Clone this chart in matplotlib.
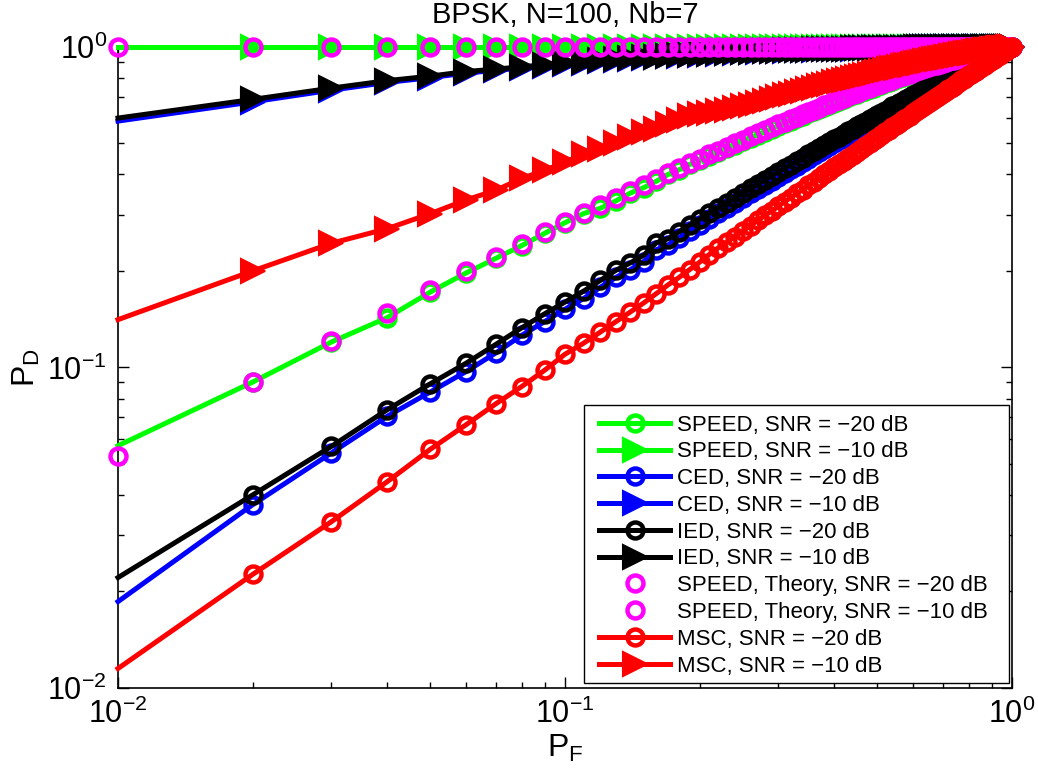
import numpy as np
import matplotlib
matplotlib.use("Agg")
import matplotlib.pyplot as plt
from matplotlib.patches import Rectangle

# fonts: Helvetica-like text, also inside math (tick labels, P_D, P_F)
plt.rcParams["font.family"] = ["Liberation Sans", "DejaVu Sans"]
plt.rcParams["mathtext.fontset"] = "custom"
plt.rcParams["mathtext.rm"] = "Liberation Sans"
plt.rcParams["mathtext.it"] = "Liberation Sans:italic"
plt.rcParams["mathtext.default"] = "regular"

# false alarm probabilities 0.01 ... 1.00
pf = np.arange(1, 101) / 100

# detection probabilities, 10 values per row
speed_sim_20 = [
    0.057, 0.090, 0.120, 0.143, 0.172, 0.197, 0.219, 0.240, 0.262, 0.283,
    0.302, 0.314, 0.331, 0.350, 0.364, 0.381, 0.400, 0.414, 0.430, 0.444,
    0.457, 0.470, 0.483, 0.496, 0.508, 0.520, 0.532, 0.544, 0.556, 0.567,
    0.578, 0.589, 0.600, 0.611, 0.621, 0.631, 0.641, 0.651, 0.660, 0.670,
    0.679, 0.688, 0.697, 0.706, 0.714, 0.723, 0.731, 0.739, 0.747, 0.755,
    0.763, 0.770, 0.778, 0.785, 0.792, 0.799, 0.806, 0.813, 0.820, 0.827,
    0.833, 0.840, 0.846, 0.852, 0.859, 0.865, 0.871, 0.876, 0.882, 0.887,
    0.893, 0.898, 0.903, 0.909, 0.914, 0.918, 0.923, 0.928, 0.933, 0.937,
    0.942, 0.946, 0.950, 0.954, 0.958, 0.961, 0.965, 0.969, 0.972, 0.975,
    0.978, 0.981, 0.984, 0.987, 0.990, 0.992, 0.994, 0.996, 0.998, 1.000,
]
speed_sim_10 = [
    1.0, 1.0, 1.0, 1.0, 1.0, 1.0, 1.0, 1.0, 1.0, 1.0,
    1.0, 1.0, 1.0, 1.0, 1.0, 1.0, 1.0, 1.0, 1.0, 1.0,
    1.0, 1.0, 1.0, 1.0, 1.0, 1.0, 1.0, 1.0, 1.0, 1.0,
    1.0, 1.0, 1.0, 1.0, 1.0, 1.0, 1.0, 1.0, 1.0, 1.0,
    1.0, 1.0, 1.0, 1.0, 1.0, 1.0, 1.0, 1.0, 1.0, 1.0,
    1.0, 1.0, 1.0, 1.0, 1.0, 1.0, 1.0, 1.0, 1.0, 1.0,
    1.0, 1.0, 1.0, 1.0, 1.0, 1.0, 1.0, 1.0, 1.0, 1.0,
    1.0, 1.0, 1.0, 1.0, 1.0, 1.0, 1.0, 1.0, 1.0, 1.0,
    1.0, 1.0, 1.0, 1.0, 1.0, 1.0, 1.0, 1.0, 1.0, 1.0,
    1.0, 1.0, 1.0, 1.0, 1.0, 1.0, 1.0, 1.0, 1.0, 1.0,
]
ced_20 = [
    0.0186, 0.0373, 0.0541, 0.0704, 0.0839, 0.097, 0.111, 0.126, 0.139, 0.152,
    0.164, 0.178, 0.191, 0.202, 0.214, 0.233, 0.241, 0.254, 0.267, 0.279,
    0.291, 0.303, 0.314, 0.327, 0.338, 0.349, 0.360, 0.372, 0.383, 0.394,
    0.405, 0.416, 0.426, 0.437, 0.448, 0.459, 0.469, 0.480, 0.490, 0.501,
    0.511, 0.521, 0.531, 0.541, 0.551, 0.561, 0.571, 0.581, 0.591, 0.601,
    0.611, 0.620, 0.629, 0.639, 0.648, 0.657, 0.667, 0.677, 0.686, 0.695,
    0.703, 0.712, 0.722, 0.731, 0.739, 0.748, 0.756, 0.766, 0.774, 0.782,
    0.790, 0.800, 0.808, 0.816, 0.824, 0.832, 0.840, 0.848, 0.856, 0.864,
    0.872, 0.879, 0.887, 0.894, 0.902, 0.910, 0.917, 0.924, 0.931, 0.938,
    0.945, 0.952, 0.958, 0.966, 0.972, 0.977, 0.984, 0.989, 0.996, 1.000,
]
ced_10 = [
    0.587, 0.674, 0.733, 0.775, 0.802, 0.829, 0.845, 0.860, 0.873, 0.885,
    0.894, 0.903, 0.911, 0.917, 0.923, 0.929, 0.934, 0.938, 0.942, 0.946,
    0.950, 0.953, 0.956, 0.959, 0.961, 0.963, 0.966, 0.968, 0.970, 0.972,
    0.973, 0.975, 0.976, 0.978, 0.979, 0.980, 0.982, 0.983, 0.984, 0.985,
    0.986, 0.987, 0.987, 0.988, 0.989, 0.989, 0.990, 0.990, 0.991, 0.992,
    0.992, 0.993, 0.993, 0.994, 0.994, 0.994, 0.995, 0.995, 0.995, 0.996,
    0.996, 0.996, 0.997, 0.997, 0.997, 0.997, 0.998, 0.998, 0.998, 0.998,
    0.998, 0.999, 0.999, 0.999, 0.999, 0.999, 0.999, 0.999, 0.999, 0.999,
    1.000, 1.000, 1.000, 1.000, 1.000, 1.000, 1.000, 1.000, 1.000, 1.000,
    1.000, 1.000, 1.000, 1.000, 1.000, 1.000, 1.000, 1.000, 1.000, 1.000,
]
ied_20 = [
    0.0221, 0.0400, 0.0567, 0.0738, 0.0890, 0.103, 0.118, 0.133, 0.147, 0.160,
    0.173, 0.187, 0.201, 0.212, 0.224, 0.245, 0.252, 0.265, 0.278, 0.290,
    0.303, 0.315, 0.326, 0.339, 0.350, 0.362, 0.373, 0.385, 0.396, 0.407,
    0.418, 0.429, 0.440, 0.451, 0.462, 0.473, 0.483, 0.494, 0.504, 0.515,
    0.525, 0.535, 0.545, 0.555, 0.565, 0.575, 0.585, 0.595, 0.604, 0.614,
    0.624, 0.633, 0.642, 0.652, 0.661, 0.670, 0.679, 0.689, 0.698, 0.707,
    0.715, 0.724, 0.733, 0.742, 0.750, 0.759, 0.767, 0.776, 0.784, 0.792,
    0.800, 0.809, 0.817, 0.825, 0.833, 0.840, 0.848, 0.856, 0.864, 0.871,
    0.879, 0.886, 0.893, 0.900, 0.908, 0.915, 0.922, 0.929, 0.935, 0.942,
    0.949, 0.955, 0.961, 0.968, 0.974, 0.979, 0.985, 0.990, 0.996, 1.000,
]
ied_10 = [
    0.600, 0.686, 0.744, 0.785, 0.811, 0.838, 0.853, 0.867, 0.880, 0.891,
    0.900, 0.909, 0.916, 0.922, 0.928, 0.933, 0.938, 0.942, 0.946, 0.950,
    0.953, 0.956, 0.959, 0.962, 0.964, 0.966, 0.968, 0.970, 0.972, 0.974,
    0.975, 0.977, 0.978, 0.980, 0.981, 0.982, 0.983, 0.984, 0.985, 0.986,
    0.987, 0.988, 0.988, 0.989, 0.990, 0.990, 0.991, 0.991, 0.992, 0.993,
    0.993, 0.993, 0.994, 0.994, 0.995, 0.995, 0.995, 0.996, 0.996, 0.996,
    0.997, 0.997, 0.997, 0.997, 0.997, 0.998, 0.998, 0.998, 0.998, 0.998,
    0.999, 0.999, 0.999, 0.999, 0.999, 0.999, 0.999, 0.999, 0.999, 0.999,
    1.000, 1.000, 1.000, 1.000, 1.000, 1.000, 1.000, 1.000, 1.000, 1.000,
    1.000, 1.000, 1.000, 1.000, 1.000, 1.000, 1.000, 1.000, 1.000, 1.000,
]
theory_20 = [
    0.053, 0.090, 0.121, 0.148, 0.174, 0.200, 0.221, 0.243, 0.264, 0.284,
    0.303, 0.321, 0.339, 0.356, 0.372, 0.388, 0.404, 0.419, 0.433, 0.447,
    0.462, 0.475, 0.488, 0.501, 0.514, 0.526, 0.538, 0.550, 0.562, 0.573,
    0.584, 0.595, 0.606, 0.617, 0.627, 0.637, 0.647, 0.657, 0.666, 0.676,
    0.685, 0.694, 0.703, 0.712, 0.720, 0.729, 0.737, 0.745, 0.753, 0.761,
    0.769, 0.776, 0.784, 0.791, 0.798, 0.805, 0.812, 0.819, 0.826, 0.833,
    0.839, 0.845, 0.852, 0.858, 0.864, 0.870, 0.876, 0.881, 0.887, 0.892,
    0.897, 0.903, 0.908, 0.913, 0.918, 0.922, 0.927, 0.932, 0.936, 0.941,
    0.945, 0.949, 0.953, 0.957, 0.960, 0.964, 0.968, 0.971, 0.974, 0.977,
    0.980, 0.983, 0.986, 0.989, 0.991, 0.993, 0.995, 0.997, 0.999, 1.000,
]
theory_10 = [
    1.0, 1.0, 1.0, 1.0, 1.0, 1.0, 1.0, 1.0, 1.0, 1.0,
    1.0, 1.0, 1.0, 1.0, 1.0, 1.0, 1.0, 1.0, 1.0, 1.0,
    1.0, 1.0, 1.0, 1.0, 1.0, 1.0, 1.0, 1.0, 1.0, 1.0,
    1.0, 1.0, 1.0, 1.0, 1.0, 1.0, 1.0, 1.0, 1.0, 1.0,
    1.0, 1.0, 1.0, 1.0, 1.0, 1.0, 1.0, 1.0, 1.0, 1.0,
    1.0, 1.0, 1.0, 1.0, 1.0, 1.0, 1.0, 1.0, 1.0, 1.0,
    1.0, 1.0, 1.0, 1.0, 1.0, 1.0, 1.0, 1.0, 1.0, 1.0,
    1.0, 1.0, 1.0, 1.0, 1.0, 1.0, 1.0, 1.0, 1.0, 1.0,
    1.0, 1.0, 1.0, 1.0, 1.0, 1.0, 1.0, 1.0, 1.0, 1.0,
    1.0, 1.0, 1.0, 1.0, 1.0, 1.0, 1.0, 1.0, 1.0, 1.0,
]
msc_20 = [
    0.0115, 0.0226, 0.0330, 0.0440, 0.0556, 0.0662, 0.0770, 0.0872, 0.0980, 0.110,
    0.119, 0.129, 0.139, 0.149, 0.159, 0.170, 0.181, 0.191, 0.202, 0.213,
    0.225, 0.236, 0.246, 0.256, 0.267, 0.277, 0.288, 0.298, 0.308, 0.318,
    0.329, 0.339, 0.349, 0.359, 0.370, 0.380, 0.390, 0.400, 0.410, 0.421,
    0.431, 0.441, 0.451, 0.461, 0.471, 0.481, 0.491, 0.501, 0.511, 0.521,
    0.531, 0.541, 0.551, 0.561, 0.571, 0.581, 0.591, 0.601, 0.611, 0.620,
    0.630, 0.640, 0.650, 0.660, 0.670, 0.679, 0.689, 0.699, 0.709, 0.718,
    0.728, 0.738, 0.747, 0.757, 0.767, 0.776, 0.786, 0.796, 0.805, 0.815,
    0.824, 0.834, 0.843, 0.853, 0.862, 0.872, 0.881, 0.891, 0.900, 0.909,
    0.919, 0.928, 0.937, 0.946, 0.955, 0.965, 0.974, 0.983, 0.991, 1.000,
]
msc_10 = [
    0.141, 0.200, 0.244, 0.271, 0.302, 0.333, 0.357, 0.389, 0.412, 0.437,
    0.464, 0.482, 0.500, 0.524, 0.543, 0.556, 0.576, 0.593, 0.607, 0.618,
    0.624, 0.630, 0.637, 0.644, 0.652, 0.660, 0.669, 0.679, 0.688, 0.697,
    0.706, 0.714, 0.722, 0.731, 0.739, 0.746, 0.754, 0.761, 0.768, 0.775,
    0.782, 0.788, 0.795, 0.801, 0.807, 0.814, 0.819, 0.825, 0.831, 0.836,
    0.842, 0.847, 0.852, 0.857, 0.862, 0.867, 0.872, 0.877, 0.881, 0.886,
    0.890, 0.894, 0.899, 0.903, 0.906, 0.910, 0.914, 0.918, 0.922, 0.925,
    0.929, 0.933, 0.936, 0.939, 0.942, 0.946, 0.949, 0.952, 0.955, 0.958,
    0.960, 0.963, 0.966, 0.968, 0.971, 0.974, 0.976, 0.978, 0.981, 0.983,
    0.985, 0.987, 0.989, 0.991, 0.993, 0.994, 0.996, 0.997, 0.999, 1.000,
]

# (label, values, colour, marker, simulated?) in drawing / legend order
curves = [
    ("SPEED, SNR = \u221220 dB", speed_sim_20, "#00ff00", "o", True),
    ("SPEED, SNR = \u221210 dB", speed_sim_10, "#00ff00", ">", True),
    ("CED, SNR = \u221220 dB", ced_20, "#0000ff", "o", True),
    ("CED, SNR = \u221210 dB", ced_10, "#0000ff", ">", True),
    ("IED, SNR = \u221220 dB", ied_20, "black", "o", True),
    ("IED, SNR = \u221210 dB", ied_10, "black", ">", True),
    ("SPEED, Theory, SNR = \u221220 dB", theory_20, "#ff00ff", "o", False),
    ("SPEED, Theory, SNR = \u221210 dB", theory_10, "#ff00ff", "o", False),
    ("MSC, SNR = \u221220 dB", msc_20, "#ff0000", "o", True),
    ("MSC, SNR = \u221210 dB", msc_10, "#ff0000", ">", True),
]

fig = plt.figure(figsize=(10.38, 7.71), dpi=100)
ax = fig.add_axes([0.1137, 0.1077, 0.8613, 0.8314])

for label, vals, color, marker, simulated in curves:
    if marker == "o":
        mstyle = dict(marker="o", ms=11.5, mew=3.2, mfc="none", mec=color)
    else:
        mstyle = dict(marker=">", ms=17, mew=1.5, mfc=color, mec=color)
    if simulated:
        # the simulated curves have no marker at the first point
        ax.plot(pf, vals, color=color, lw=3.6, markevery=slice(1, None),
                label=label, clip_on=False, zorder=3, **mstyle)
    else:
        ax.plot(pf, vals, linestyle="none", label=label,
                clip_on=False, zorder=3, **mstyle)

ax.set_xscale("log")
ax.set_yscale("log")
ax.set_xlim(0.01, 1)
ax.set_ylim(0.01, 1)

ax.tick_params(which="both", direction="in", top=True, right=True, width=1)
ax.tick_params(which="major", length=8, pad=8, labelsize=22)
ax.tick_params(which="minor", length=4.5)
for sp in ax.spines.values():
    sp.set_linewidth(1.2)

ax.set_title("BPSK, N=100, Nb=7", fontsize=21, pad=17)
ax.set_xlabel("$P_F$", fontsize=23, labelpad=2)
ax.set_ylabel("$P_D$", fontsize=23, labelpad=4)

# legend box drawn by hand so the padding matches the original
box = Rectangle((0.5213, 0.0078), 0.4754, 0.4337, transform=ax.transAxes,
                facecolor="white", edgecolor="black", lw=1.0,
                clip_on=False, zorder=4.9)
ax.add_patch(box)
leg = ax.legend(loc="upper left", bbox_to_anchor=(0.538, 0.4265), fontsize=16,
                handlelength=3.2, handletextpad=0.32, labelspacing=0.26,
                borderpad=0, borderaxespad=0, frameon=False, numpoints=1)
leg.set_zorder(5)

plt.savefig("out.png", dpi=100)
